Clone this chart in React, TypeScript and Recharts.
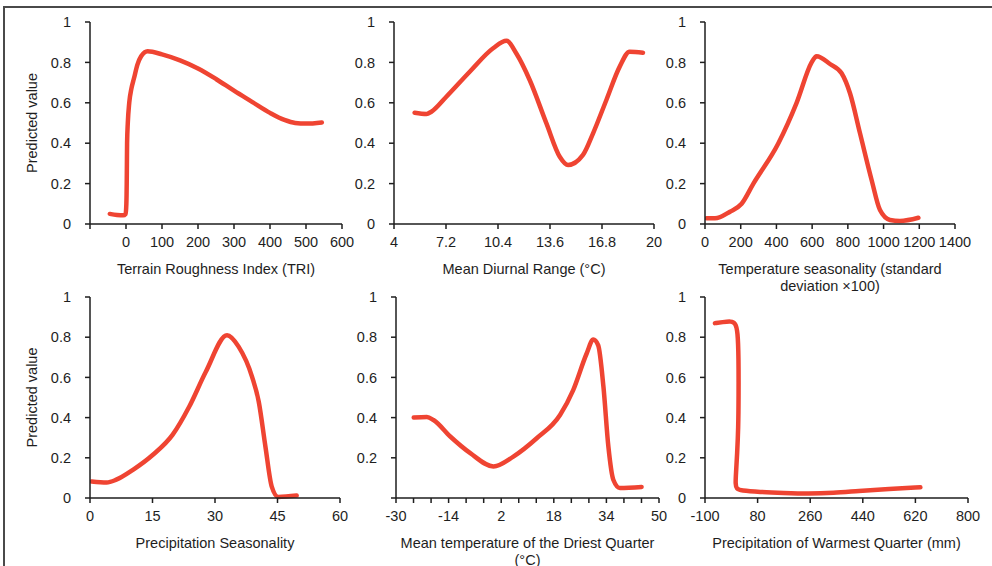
// App.tsx — six response curves (predicted value vs. predictor), 2x3 grid
import { LineChart, Line, XAxis, YAxis } from 'recharts';

const FONT = '"Liberation Sans", Arial, Helvetica, sans-serif';
const RED = '#ef4432';
const INK = '#1e1e1e';
const FS = 14.5;

const yTicks = [0, 0.2, 0.4, 0.6, 0.8, 1];

// Terrain Roughness Index (TRI)
const triX = [-45, -25, -8, -1, 1, 2, 2.5, 3, 5, 9, 15, 22, 32, 42, 60, 100, 150, 200, 250, 300, 350, 400, 440, 470, 500, 544];
const triY = [0.05, 0.045, 0.043, 0.05, 0.1, 0.2, 0.3, 0.4, 0.5, 0.6, 0.67, 0.72, 0.79, 0.83, 0.855, 0.84, 0.81, 0.77, 0.718, 0.66, 0.605, 0.55, 0.515, 0.5, 0.497, 0.503];
const triTicks = [-100, 0, 100, 200, 300, 400, 500, 600];
const triLabels = ['0', '100', '200', '300', '400', '500', '600'];

// Mean Diurnal Range
const mdrX = [5.27, 6.0, 6.3, 7.22, 8.66, 10.1, 10.92, 11.53, 12.35, 13.38, 14.2, 14.71, 15.63, 16.25, 17.07, 17.89, 18.5, 19.32];
const mdrY = [0.551, 0.545, 0.556, 0.63, 0.754, 0.87, 0.907, 0.844, 0.713, 0.498, 0.333, 0.292, 0.342, 0.449, 0.614, 0.779, 0.853, 0.848];
const mdrTicks = [4, 7.2, 10.4, 13.6, 16.8, 20];

// Temperature seasonality
const tsX = [9, 56, 140, 205, 271, 411, 513, 597, 616, 625, 700, 765, 812, 868, 933, 980, 1036, 1092, 1195];
const tsY = [0.028, 0.028, 0.061, 0.1, 0.2, 0.4, 0.6, 0.8, 0.825, 0.83, 0.792, 0.746, 0.647, 0.449, 0.218, 0.069, 0.02, 0.015, 0.031];
const tsTicks = [0, 200, 400, 600, 800, 1000, 1200, 1400];

// Precipitation Seasonality
const psX = [0.4, 4, 6.3, 10.3, 15.1, 19.8, 23.8, 27.8, 32.9, 35.7, 38.9, 40.5, 42.1, 43.6, 45.2, 49.6];
const psY = [0.082, 0.077, 0.091, 0.14, 0.215, 0.314, 0.454, 0.628, 0.81, 0.752, 0.603, 0.479, 0.256, 0.058, 0.005, 0.012];
const psTicks = [0, 15, 30, 45, 60];

// Mean temperature of the Driest Quarter
const mtdX = [-24.6, -20.6, -18.6, -13.5, -7.4, -0.35, 5.7, 12.8, 19.9, 23.9, 28, 30, 31.5, 33.1, 34.6, 36.1, 38.1, 44.7];
const mtdY = [0.4, 0.403, 0.388, 0.306, 0.223, 0.157, 0.206, 0.297, 0.413, 0.537, 0.719, 0.788, 0.76, 0.553, 0.256, 0.091, 0.05, 0.055];
const mtdTicks = [-30, -24.67, -19.33, -14, -8.67, -3.33, 2, 7.33, 12.67, 18, 23.33, 28.67, 34, 39.33, 44.67, 50];
const mtdLabels = ['-30', '-14', '2', '18', '34', '50'];

// Precipitation of Warmest Quarter
const pwqX = [-66, -40, -10, 4, 12, 15, 15, 14, 10, 6, 4, 8, 22, 86, 170, 254, 340, 423, 530, 637];
const pwqY = [0.87, 0.875, 0.88, 0.87, 0.83, 0.7, 0.5, 0.35, 0.22, 0.12, 0.07, 0.045, 0.037, 0.03, 0.025, 0.021, 0.025, 0.035, 0.045, 0.053];
const pwqTicks = [-100, 80, 260, 440, 620, 800];

const zip = (xs: number[], ys: number[]) => xs.map((x, i) => ({ x, y: ys[i] }));

type Panel = {
  left: number;
  top: number;
  w: number;
  h: number;
  data: { x: number; y: number }[];
  domain: [number, number];
  ticks: number[];
  labels?: string[];
  title: string[];
  yTitle?: boolean;
  hideZero?: boolean;
  curve: 'monotone' | 'basis';
};

const panels: Panel[] = [
  { left: 90, top: 22, w: 252, h: 202, data: zip(triX, triY), domain: [-100, 600], ticks: triTicks, labels: triLabels, title: ['Terrain Roughness Index (TRI)'], yTitle: true, curve: 'monotone' },
  { left: 394, top: 22, w: 260, h: 202, data: zip(mdrX, mdrY), domain: [4, 20], ticks: mdrTicks, title: ['Mean Diurnal Range (°C)'], curve: 'monotone' },
  { left: 705, top: 22, w: 250, h: 202, data: zip(tsX, tsY), domain: [0, 1400], ticks: tsTicks, title: ['Temperature seasonality (standard', 'deviation ×100)'], curve: 'monotone' },
  { left: 90, top: 297, w: 250, h: 201, data: zip(psX, psY), domain: [0, 60], ticks: psTicks, title: ['Precipitation Seasonality'], yTitle: true, curve: 'monotone' },
  { left: 396, top: 297, w: 263, h: 201, data: zip(mtdX, mtdY), domain: [-30, 50], ticks: mtdTicks, labels: mtdLabels, title: ['Mean temperature of the Driest Quarter', '(°C)'], hideZero: true, curve: 'monotone' },
  { left: 705, top: 297, w: 263, h: 201, data: zip(pwqX, pwqY), domain: [-100, 800], ticks: pwqTicks, title: ['Precipitation of Warmest Quarter (mm)'], curve: 'basis' },
];

const Y_W = 80;
const X_H = 80;
const M_TOP = 10;
const M_RIGHT = 20;

const tickStyle = { fill: INK, fontSize: FS, fontFamily: FONT };

function xTitle(lines: string[]) {
  return (props: any) => {
    const { x, y, width } = props.viewBox;
    const cx = x + width / 2;
    return (
      <text x={cx} y={y + 50} textAnchor="middle" fill={INK} fontSize={FS} fontFamily={FONT}>
        {lines.map((l, i) => (
          <tspan key={i} x={cx} dy={i ? 17 : 0}>
            {l}
          </tspan>
        ))}
      </text>
    );
  };
}

function yTitle(props: any) {
  const { x, y, width, height } = props.viewBox;
  const tx = x + width - 58;
  const ty = y + height / 2;
  return (
    <text x={tx} y={ty} transform={`rotate(-90 ${tx} ${ty})`} textAnchor="middle" dominantBaseline="central" fill={INK} fontSize={FS} fontFamily={FONT}>
      Predicted value
    </text>
  );
}

function CurvePanel({ p }: { p: Panel }) {
  const fmtX = (v: number) => {
    const s = String(v);
    if (p.labels) return p.labels.includes(s) ? s : '';
    return s;
  };
  const fmtY = (v: number) => (p.hideZero && v === 0 ? '' : String(v));
  return (
    <div style={{ position: 'absolute', left: p.left - Y_W, top: p.top - M_TOP }}>
      <LineChart
        width={Y_W + p.w + M_RIGHT}
        height={M_TOP + p.h + X_H}
        data={p.data}
        margin={{ top: M_TOP, right: M_RIGHT, bottom: 0, left: 0 }}
      >
        <XAxis
          type="number"
          dataKey="x"
          domain={p.domain}
          ticks={p.ticks}
          interval={0}
          allowDataOverflow
          tickFormatter={fmtX}
          tick={tickStyle}
          tickSize={5}
          tickMargin={8}
          height={X_H}
          axisLine={{ stroke: INK, strokeWidth: 1.5 }}
          tickLine={{ stroke: INK, strokeWidth: 1.5 }}
          label={{ content: xTitle(p.title) }}
        />
        <YAxis
          type="number"
          domain={[0, 1]}
          ticks={yTicks}
          interval={0}
          tickFormatter={fmtY}
          tick={tickStyle}
          tickSize={5}
          tickMargin={14}
          width={Y_W}
          axisLine={{ stroke: INK, strokeWidth: 1.5 }}
          tickLine={{ stroke: INK, strokeWidth: 1.5 }}
          label={p.yTitle ? { content: yTitle } : undefined}
        />
        <Line
          type={p.curve}
          dataKey="y"
          stroke={RED}
          strokeWidth={4.5}
          strokeLinecap="round"
          strokeLinejoin="round"
          dot={false}
          activeDot={false}
          isAnimationActive={false}
        />
      </LineChart>
    </div>
  );
}

export default function App() {
  return (
    <div
      style={{
        position: 'relative',
        width: 992,
        height: 566,
        overflow: 'hidden',
        background: '#fff',
        fontFamily: FONT,
      }}
    >
      <style>{'body{margin:0}'}</style>
      <div
        style={{
          position: 'absolute',
          left: 3,
          top: 6,
          right: 0,
          bottom: 0,
          borderTop: '2px solid #4a4a4a',
          borderLeft: '2px solid #4a4a4a',
        }}
      />
      {panels.map((p, i) => (
        <CurvePanel key={i} p={p} />
      ))}
    </div>
  );
}
